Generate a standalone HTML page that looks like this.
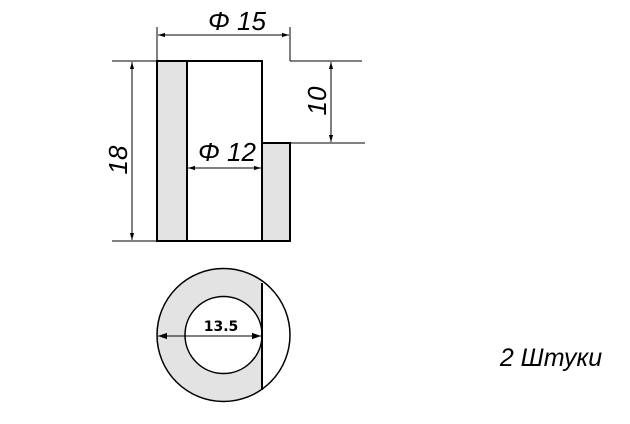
<!DOCTYPE html>
<html><head><style>html,body{margin:0;padding:0;background:#fff;}</style></head>
<body>
<svg width="630" height="419" viewBox="0 0 630 419" xmlns="http://www.w3.org/2000/svg" font-family="Liberation Sans, sans-serif">
<defs>
<marker id="a" viewBox="0 0 10 10" refX="10" refY="5" markerWidth="7" markerHeight="7" orient="auto-start-reverse"><path d="M0,2 L10,5 L0,8 z" fill="#000"/></marker>
<marker id="b" viewBox="0 0 10 10" refX="10" refY="5" markerWidth="9" markerHeight="9" orient="auto-start-reverse"><path d="M0,1.5 L10,5 L0,8.5 z" fill="#000"/></marker>
<clipPath id="c"><rect x="150" y="260" width="112" height="150"/></clipPath>
</defs>
<rect x="157" y="61" width="30" height="180" fill="#e3e3e3" stroke="#000" stroke-width="2"/>
<rect x="187" y="61" width="75" height="180" fill="#fff" stroke="#000" stroke-width="2"/>
<rect x="262" y="143" width="28" height="98" fill="#e3e3e3" stroke="#000" stroke-width="2"/>
<g stroke="#000" stroke-width="1" fill="none">
<line x1="112" y1="61" x2="157" y2="61"/>
<line x1="112" y1="241" x2="157" y2="241"/>
<line x1="290" y1="61" x2="362" y2="61"/>
<line x1="290" y1="143" x2="365" y2="143"/>
<line x1="157" y1="27" x2="157" y2="61"/>
<line x1="290" y1="27" x2="290" y2="61"/>
<line x1="158" y1="35" x2="289" y2="35" marker-start="url(#a)" marker-end="url(#a)"/>
<line x1="132" y1="62" x2="132" y2="240" marker-start="url(#a)" marker-end="url(#a)"/>
<line x1="331" y1="62" x2="331" y2="142" marker-start="url(#a)" marker-end="url(#a)"/>
<line x1="188" y1="168" x2="261" y2="168" marker-start="url(#a)" marker-end="url(#a)"/>
</g>
<text x="237" y="30" font-size="26" font-style="italic" text-anchor="middle">Φ 15</text>
<text x="227" y="161" font-size="26" font-style="italic" text-anchor="middle">Φ 12</text>
<text transform="translate(127,160) rotate(-90)" font-size="26" font-style="italic" text-anchor="middle">18</text>
<text transform="translate(326,101) rotate(-90)" font-size="26" font-style="italic" text-anchor="middle">10</text>
<circle cx="223.5" cy="335" r="66.5" fill="#fff"/>
<circle cx="223.5" cy="335" r="66.5" fill="#e3e3e3" clip-path="url(#c)"/>
<circle cx="223.5" cy="335" r="66.5" fill="none" stroke="#000" stroke-width="1.5"/>
<circle cx="223.5" cy="335" r="38.5" fill="#fff" stroke="#000" stroke-width="1.5"/>
<line x1="262" y1="283" x2="262" y2="390" stroke="#000" stroke-width="2"/>
<line x1="158" y1="336" x2="261" y2="336" stroke="#000" stroke-width="1" marker-start="url(#b)" marker-end="url(#b)"/>
<text x="221" y="331" font-size="14" font-weight="bold" font-family="DejaVu Sans, sans-serif" text-anchor="middle">13.5</text>
<text x="551" y="366" font-size="25" font-style="italic" text-anchor="middle">2 Штуки</text>
</svg>
</body></html>
